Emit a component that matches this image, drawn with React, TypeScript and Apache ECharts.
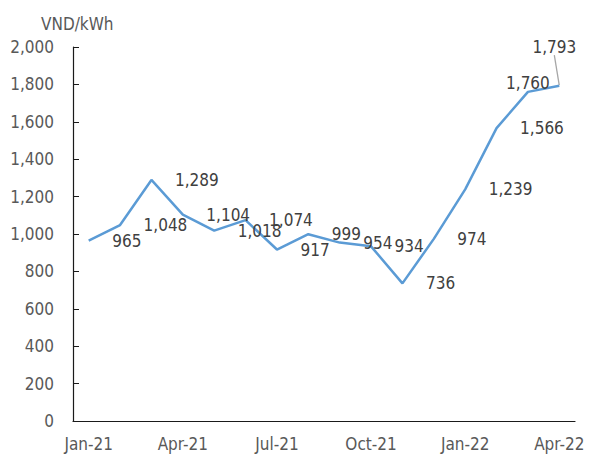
import React, { useEffect, useRef } from "react";
import * as echarts from "echarts";

const months = [
  "Jan-21", "Feb-21", "Mar-21", "Apr-21", "May-21", "Jun-21", "Jul-21", "Aug-21",
  "Sep-21", "Oct-21", "Nov-21", "Dec-21", "Jan-22", "Feb-22", "Mar-22", "Apr-22",
];
const prices = [965, 1048, 1289, 1104, 1018, 1074, 917, 999, 954, 934, 736, 974, 1239, 1566, 1760, 1793];
const unitLabel = "VND/kWh";

const FONT = "'DejaVu Sans Condensed', 'Liberation Sans', sans-serif";

export default function App() {
  const ref = useRef<HTMLDivElement>(null);
  useEffect(() => {
    if (!ref.current) return;
    document.body.style.margin = "0";
    const chart = echarts.init(ref.current, null, { renderer: "svg" });
    const data = prices.map((v, i) => {
      if (i === months.length - 2) {
        return { value: v, label: { position: "top", distance: 0, offset: [-20, 2] } };
      }
      if (i === months.length - 1) {
        return {
          value: v,
          label: { position: "top", distance: 5 },
          labelLine: { show: true, lineStyle: { color: "#a6a6a6", width: 1.3 } },
        };
      }
      return { value: v };
    });
    chart.setOption({
      animation: false,
      title: {
        text: unitLabel,
        left: 36,
        top: 10,
        textStyle: { fontFamily: FONT, fontSize: 17, fontWeight: "normal", color: "#595959" },
      },
      grid: { left: 73, right: 15, top: 47, bottom: 33 },
      xAxis: {
        type: "category",
        data: months,
        boundaryGap: true,
        axisLine: { lineStyle: { color: "#1a1a1a", width: 1.2 } },
        axisTick: { inside: true, length: 6, interval: 2, lineStyle: { color: "#1a1a1a" } },
        axisLabel: { interval: 2, margin: 14, fontFamily: FONT, fontSize: 17, color: "#595959" },
        splitLine: { show: false },
      },
      yAxis: {
        type: "value",
        min: 0,
        max: 2000,
        interval: 200,
        axisLine: { show: true, lineStyle: { color: "#1a1a1a", width: 1.2 } },
        axisTick: { show: true, inside: true, length: 6, lineStyle: { color: "#1a1a1a" } },
        axisLabel: {
          margin: 19,
          fontFamily: FONT,
          fontSize: 17,
          color: "#595959",
          formatter: (v: number) => v.toLocaleString("en-US"),
        },
        splitLine: { show: false },
      },
      series: [
        {
          type: "line",
          data,
          symbol: "circle",
          symbolSize: 1,
          showSymbol: true,
          itemStyle: { color: "rgba(0,0,0,0)", borderWidth: 0 },
          lineStyle: { color: "#5b9bd5", width: 2.5 },
          label: {
            show: true,
            position: "right",
            distance: 23,
            fontFamily: FONT,
            fontSize: 17,
            color: "#404040",
            formatter: (p: any) => Number(p.value).toLocaleString("en-US"),
          },
          labelLayout: (p: any) => {
            if (p.dataIndex === months.length - 1) return { dx: -5, dy: -25 };
            return {};
          },
        },
      ],
    });
    return () => chart.dispose();
  }, []);
  return <div ref={ref} style={{ width: 590, height: 454 }} />;
}
